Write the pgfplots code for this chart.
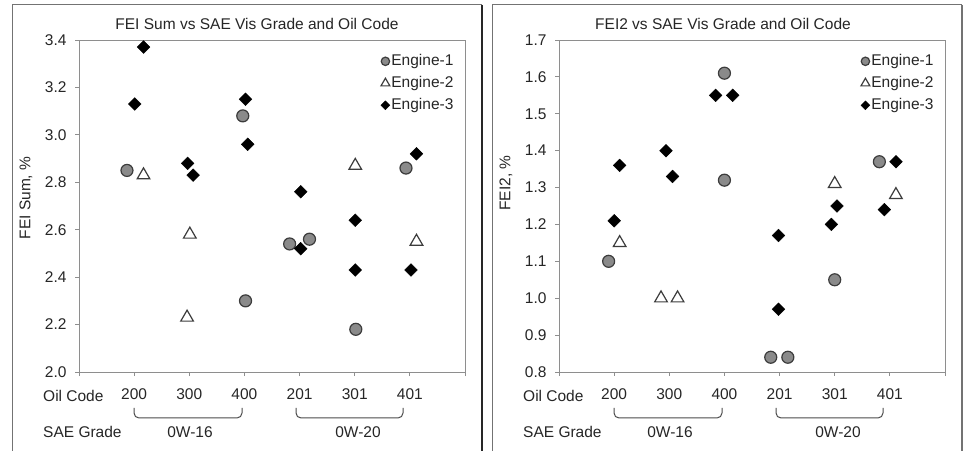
\documentclass[border=0pt]{standalone}
\usepackage{fontspec}
\setmainfont{Liberation Sans}
\usepackage{pgfplots}
\pgfplotsset{compat=1.18}
\newcommand\f{\fontsize{15.5bp}{18bp}\selectfont}
\definecolor{cgray}{HTML}{8A8A8A}
\definecolor{cedge}{HTML}{3C3C3C}
\definecolor{axgray}{HTML}{8E8E8E}
\pgfplotsset{
  myax/.style={
    anchor=south west, width=386bp, height=332bp, scale only axis,
    xmin=0, xmax=7, xtick={0,1,2,3,4,5,6,7},
    xticklabels={,200,300,400,201,301,401,},
    tick align=outside, major tick length=4bp,
    xtick pos=bottom, ytick pos=left,
    axis line style={draw=axgray, line width=0.9bp},
    tick style={draw=axgray, line width=0.9bp},
    ticklabel style={font=\f, text=black!85},
    yticklabel style={xshift=-5bp},
    xticklabel style={yshift=-9bp},
    /pgf/number format/.cd, fixed, fixed zerofill, precision=1, assume math mode=true, /pgfplots/.cd,
    clip=false,
    legend cell align=left,
    legend image code/.code={\draw[##1, every mark/.append style={scale=0.7}] plot coordinates {(0bp,0bp)};},
    legend style={draw=none, fill=none, font=\f, anchor=north west, inner sep=0pt,
      row sep=5bp, nodes={inner sep=1.5bp, text height=11bp, text depth=3bp, text=black!85}},
  },
  e1/.style={only marks, mark=*, mark size=6bp, mark options={fill=cgray, draw=cedge, line width=1.2bp}},
  e2/.style={only marks, mark=triangle, mark size=7.3bp, mark options={fill=white, draw=cedge, line width=1.2bp}},
  e3/.style={only marks, mark=square*, mark size=4.5bp, mark options={rotate=45, fill=black, draw=black}},
}
\begin{document}
\begin{tikzpicture}
\useasboundingbox[fill=white] (0bp,0bp) rectangle (975bp,451bp);
% frames
\draw[draw=black!55, line width=1bp] (12bp,0bp) -- (12bp,446bp) -- (482bp,446bp);
\draw[draw=black!85, line width=2bp] (482bp,446bp) -- (482bp,0bp);
\draw[draw=black!55, line width=1bp] (492bp,0bp) -- (492bp,446bp) -- (962bp,446bp);
\draw[draw=black!55, line width=2bp] (962bp,446bp) -- (962bp,0bp);

\begin{axis}[myax, at={(79bp,79bp)}, ymin=2.0, ymax=3.4,
  ytick={2.0,2.2,2.4,2.6,2.8,3.0,3.2,3.4},
  legend style={at={(rel axis cs:0.7818,0.962)}}]
\addplot[e1] coordinates {(0.87,2.85) (2.97,3.08) (3.02,2.30) (3.82,2.54) (4.18,2.56) (5.02,2.18) (5.93,2.86)};
\addlegendentry{Engine-1}
\addplot[e2] coordinates {(1.17,2.83) (2.01,2.58) (1.96,2.23) (5.01,2.87) (6.12,2.55)};
\addlegendentry{Engine-2}
\addplot[e3] coordinates {(1.01,3.13) (1.17,3.37) (1.97,2.88) (2.07,2.83) (3.02,3.15) (3.06,2.96) (4.02,2.76) (4.02,2.52) (5.01,2.64) (5.01,2.43) (6.02,2.43) (6.12,2.92)};
\addlegendentry{Engine-3}
\end{axis}

\begin{axis}[myax, at={(559bp,79bp)}, ymin=0.8, ymax=1.7,
  ytick={0.8,0.9,1.0,1.1,1.2,1.3,1.4,1.5,1.6,1.7},
  legend style={at={(rel axis cs:0.7818,0.962)}}]
\addplot[e1] coordinates {(0.90,1.10) (3.00,1.61) (3.00,1.32) (3.84,0.84) (4.15,0.84) (5.00,1.05) (5.81,1.37)};
\addlegendentry{Engine-1}
\addplot[e2] coordinates {(1.10,1.15) (1.85,1.00) (2.15,1.00) (5.00,1.31) (6.11,1.28)};
\addlegendentry{Engine-2}
\addplot[e3] coordinates {(1.00,1.21) (1.10,1.36) (1.94,1.40) (2.06,1.33) (2.84,1.55) (3.15,1.55) (3.98,1.17) (3.98,0.97) (4.94,1.20) (5.04,1.25) (5.90,1.24) (6.11,1.37)};
\addlegendentry{Engine-3}
\end{axis}

% titles and labels
\node[font=\f, text=black!85] at (257bp,427bp) {FEI Sum vs SAE Vis Grade and Oil Code};
\node[font=\f, text=black!85] at (723bp,427bp) {FEI2 vs SAE Vis Grade and Oil Code};
\node[font=\f, text=black!85, rotate=90] at (26bp,253bp) {FEI Sum, \%};
\node[font=\f, text=black!85, rotate=90] at (506bp,268bp) {FEI2, \%};
\foreach \ox in {0,480}{
  \node[font=\f, text=black!85, anchor=west, inner sep=0pt] at (\ox bp+43bp,55bp) {Oil Code};
  \node[font=\f, text=black!85, anchor=west, inner sep=0pt] at (\ox bp+43bp,19bp) {SAE Grade};
  \node[font=\f, text=black!85] at (\ox bp+190bp,19bp) {0W-16};
  \node[font=\f, text=black!85] at (\ox bp+358bp,19bp) {0W-20};
  \draw[black!70, line width=1bp, rounded corners=5bp] (\ox bp+134bp,43bp) -- (\ox bp+134bp,33bp) -- (\ox bp+242bp,33bp) -- (\ox bp+242bp,43bp);
  \draw[black!70, line width=1bp, rounded corners=5bp] (\ox bp+296bp,43bp) -- (\ox bp+296bp,33bp) -- (\ox bp+403bp,33bp) -- (\ox bp+403bp,43bp);
}
\end{tikzpicture}
\end{document}
